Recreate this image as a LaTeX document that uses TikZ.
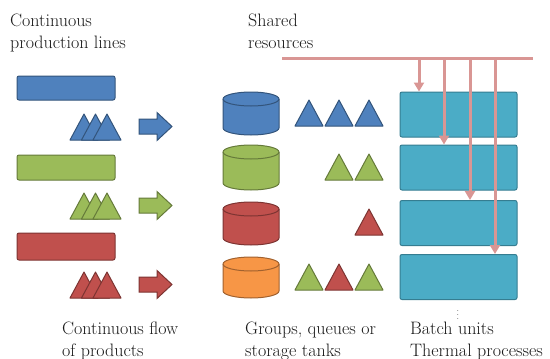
\documentclass[tikz,border=0pt]{standalone}
\usepackage{xcolor}
\usepackage{tikz}
\usetikzlibrary{arrows.meta}

\definecolor{prodblue}{HTML}{4F81BD}
\definecolor{prodgreen}{HTML}{9BBB59}
\definecolor{prodred}{HTML}{C0504D}
\definecolor{prodorange}{HTML}{F79646}
\definecolor{batchfill}{HTML}{4BACC6}
\definecolor{batchedge}{HTML}{357D91}
\definecolor{resline}{HTML}{D99694}

% a product: left end of the base, base line, colour
\newcommand{\prodtri}[3]{\filldraw[fill=#3,draw=#3!65!black,line width=1pt,line join=round] (#1,#2) -- ++(14,-26) -- ++(14,26) -- cycle;}
% a flow arrow: middle line, colour
\newcommand{\flowarrow}[2]{\filldraw[fill=#2,draw=#2!65!black,line width=1pt] (139,#1-7.5) -- (157,#1-7.5) -- (157,#1-14) -- (172,#1) -- (157,#1+14) -- (157,#1+7.5) -- (139,#1+7.5) -- cycle;}
% a storage tank: middle, top, bottom, colour
\newcommand{\tank}[4]{%
  \filldraw[fill=#4,draw=#4!65!black,line width=1pt] (#1-28,#2+7) -- (#1-28,#3-7)
    arc[start angle=180,end angle=0,x radius=28,y radius=7] -- (#1+28,#2+7)
    arc[start angle=0,end angle=-180,x radius=28,y radius=7] -- cycle;
  \draw[draw=#4!65!black,line width=1pt] (#1-28,#2+7) arc[start angle=180,end angle=0,x radius=28,y radius=7];}

\begin{document}
\begin{tikzpicture}[x=1pt,y=-1pt,
  heading/.style={anchor=north west,inner sep=0pt,align=left,text=black!90,font=\fontsize{18}{21.5}\selectfont},
  batch/.style={draw=batchedge,fill=batchfill,line width=1pt,rounded corners=2pt,minimum width=117pt,minimum height=45pt,inner sep=0pt},
  res/.style={draw=resline,line width=3pt}]
\useasboundingbox (0,0) rectangle (550,359);

\node[heading] (prodlines) at (10,14) {Continuous\\production lines};
\node[heading] (shared) at (248,14) {Shared\\resources};

% continuous lines
\filldraw[fill=prodblue,draw=prodblue!65!black,line width=1pt,rounded corners=2pt] (17,76) rectangle (115,100);
\filldraw[fill=prodgreen,draw=prodgreen!65!black,line width=1pt,rounded corners=2pt] (17,155) rectangle (115,180);
\filldraw[fill=prodred,draw=prodred!65!black,line width=1pt,rounded corners=2pt] (17,233) rectangle (115,260);

\foreach \y/\c in {140/prodblue,219/prodgreen,298/prodred}{
  \prodtri{70}{\y}{\c}
  \prodtri{81.5}{\y}{\c}
  \prodtri{93}{\y}{\c}
  \flowarrow{\y-13.5}{\c}
}

% tanks
\tank{251}{92}{135}{prodblue}
\tank{251}{145}{190}{prodgreen}
\tank{251}{202}{245}{prodred}
\tank{251}{257}{298}{prodorange}

\prodtri{295}{126}{prodblue}
\prodtri{325}{126}{prodblue}
\prodtri{355}{126}{prodblue}
\prodtri{325}{180}{prodgreen}
\prodtri{355}{180}{prodgreen}
\prodtri{355}{235}{prodred}
\prodtri{295}{290}{prodgreen}
\prodtri{325}{290}{prodred}
\prodtri{355}{290}{prodgreen}

% batch units
\node[batch] (b1) at (458.5,114.5) {};
\node[batch] (b2) at (458.5,167.5) {};
\node[batch] (b3) at (458.5,223) {};
\node[batch] (b4) at (458.5,277) {};

\coordinate (rs) at (282,58);
\coordinate (re) at (533,58);
\draw[res] (rs) -- (re);
\foreach \x/\b in {419/b1,444/b2,470/b3,495/b4}{
  \coordinate (r\b) at (\x,58);
  \draw[res,-{Triangle[width=10pt,length=9pt]}] (r\b) -- (r\b |- \b.north);
}

\node[text=black!85,inner sep=0pt] (dots) at (458,312) {\fontsize{9}{9}\selectfont$\vdots$};

\node[heading] (flow) at (62,322) {Continuous flow\\of products};
\node[heading] (tanks) at (245,322) {Groups, queues or\\storage tanks};
\node[heading] (batch) at (410,322) {Batch units\\Thermal processes};
\end{tikzpicture}
\end{document}
